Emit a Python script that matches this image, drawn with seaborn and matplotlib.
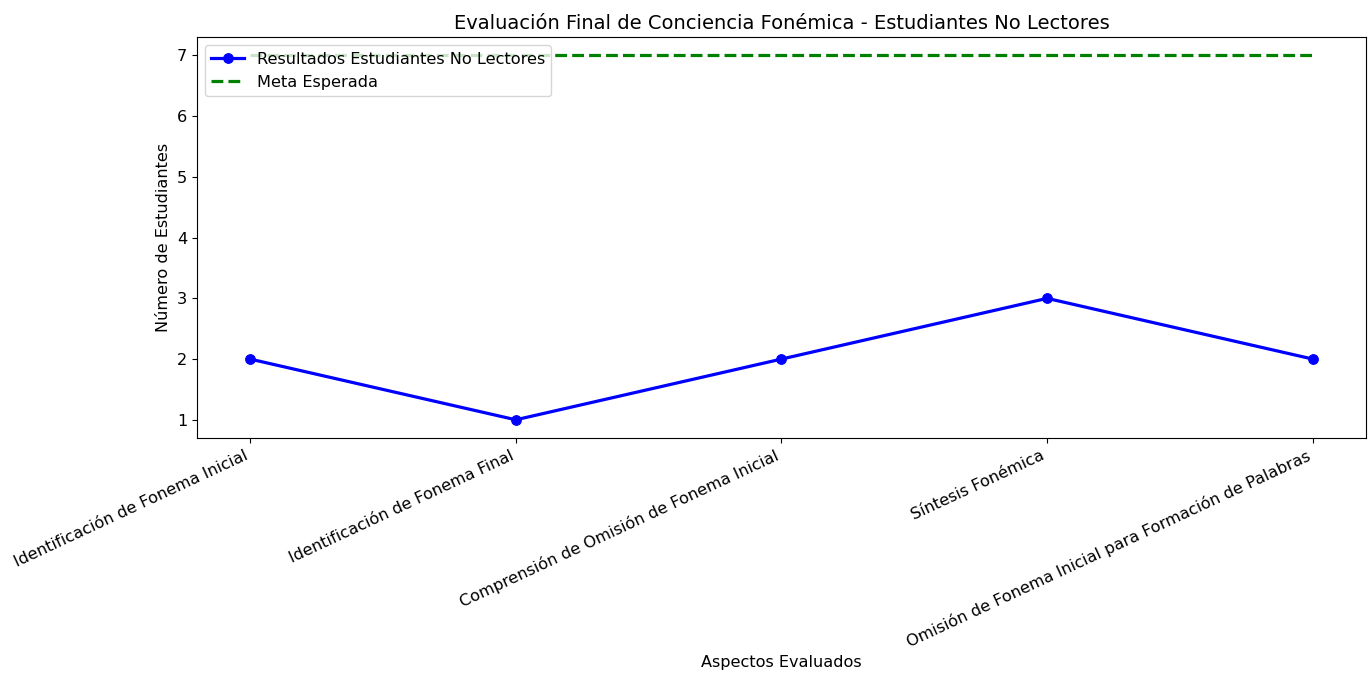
import seaborn as sns
import matplotlib.pyplot as plt
import pandas as pd

aspectos = [
    "Identificación de Fonema Inicial",
    "Identificación de Fonema Final",
    "Comprensión de Omisión de Fonema Inicial",
    "Síntesis Fonémica",
    "Omisión de Fonema Inicial para Formación de Palabras",
]
resultados = [2, 1, 2, 3, 2]
meta = [7, 7, 7, 7, 7]

df = pd.DataFrame({"Aspectos": aspectos, "Resultados": resultados, "Meta": meta})

fs = 11.6

fig = plt.figure(figsize=(13.68, 6.77), dpi=100)
ax = fig.add_axes([0.144, 0.353, 0.8545, 0.592])

sns.lineplot(data=df, x="Aspectos", y="Resultados", marker="o", markersize=7,
             markeredgecolor="blue", color="blue", linewidth=2.3,
             label="Resultados Estudiantes No Lectores", ax=ax)
sns.lineplot(data=df, x="Aspectos", y="Meta", color="green", linewidth=2.3,
             linestyle="--", label="Meta Esperada", ax=ax)

ax.set_title("Evaluación Final de Conciencia Fonémica - Estudiantes No Lectores", fontsize=14)
ax.set_xlabel("Aspectos Evaluados", fontsize=fs)
ax.set_ylabel("Número de Estudiantes", fontsize=fs)
plt.setp(ax.get_xticklabels(), rotation=25, ha="right", fontsize=fs)
ax.tick_params(axis="y", labelsize=fs)
ax.legend(loc="upper left", fontsize=fs)

fig.savefig("out.png", dpi=100)
